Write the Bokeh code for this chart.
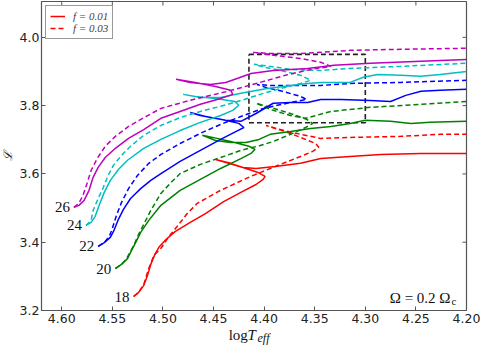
import numpy as np
from bokeh.plotting import figure
from bokeh.layouts import column, row
from bokeh.models import (Range1d, FixedTicker, NumeralTickFormatter, Label, Legend, LegendItem)
from bokeh.core.properties import value
from bokeh.embed import file_html
from bokeh.resources import INLINE

# ---------------- data ----------------
masses = ["18", "20", "22", "24", "26"]
colors = ["#ff0000", "#008000", "#0000ff", "#00bfbf", "#bf00bf"]

x_ticks = [4.60, 4.55, 4.50, 4.45, 4.40, 4.35, 4.30, 4.25, 4.20]
y_ticks = [3.2, 3.4, 3.6, 3.8, 4.0]

# 18 Msun, f = 0.01 (solid) / f = 0.03 (dashed)
logT_18_f01 = [4.529, 4.524, 4.519, 4.515, 4.512, 4.508, 4.504, 4.497, 4.488, 4.473, 4.458, 4.440,
               4.423, 4.408, 4.401, 4.399, 4.406, 4.418, 4.433, 4.448, 4.435, 4.421, 4.408, 4.389,
               4.364, 4.344, 4.315, 4.285, 4.245, 4.200]
lum_18_f01 = [3.241, 3.253, 3.273, 3.305, 3.335, 3.364, 3.385, 3.408, 3.431, 3.458, 3.484, 3.519,
              3.546, 3.569, 3.584, 3.593, 3.604, 3.616, 3.631, 3.642, 3.631, 3.619, 3.616, 3.622,
              3.631, 3.645, 3.651, 3.657, 3.660, 3.660]
logT_18_f03 = [4.529, 4.524, 4.519, 4.514, 4.509, 4.502, 4.494, 4.486, 4.476, 4.466, 4.443, 4.413,
               4.384, 4.364, 4.352, 4.346, 4.349, 4.364, 4.379, 4.392, 4.398, 4.384, 4.364, 4.344,
               4.315, 4.265, 4.226, 4.200]
lum_18_f03 = [3.241, 3.253, 3.276, 3.323, 3.361, 3.382, 3.417, 3.446, 3.484, 3.514, 3.552, 3.593,
              3.628, 3.651, 3.666, 3.678, 3.689, 3.707, 3.724, 3.736, 3.742, 3.730, 3.716, 3.704,
              3.707, 3.710, 3.716, 3.716]

# 20 Msun
logT_20_f01 = [4.547, 4.541, 4.535, 4.531, 4.527, 4.522, 4.514, 4.502, 4.483, 4.463, 4.443, 4.423,
               4.413, 4.409, 4.415, 4.433, 4.451, 4.461, 4.448, 4.433, 4.418, 4.405, 4.394, 4.374,
               4.354, 4.334, 4.315, 4.300, 4.275, 4.255, 4.236, 4.200]
lum_20_f01 = [3.323, 3.335, 3.352, 3.376, 3.399, 3.429, 3.464, 3.508, 3.552, 3.584, 3.616, 3.645,
              3.660, 3.672, 3.681, 3.695, 3.707, 3.713, 3.698, 3.692, 3.692, 3.701, 3.716, 3.724,
              3.733, 3.739, 3.748, 3.757, 3.754, 3.748, 3.751, 3.754]
logT_20_f03 = [4.547, 4.541, 4.536, 4.532, 4.528, 4.524, 4.519, 4.512, 4.502, 4.492, 4.483, 4.463,
               4.443, 4.423, 4.404, 4.391, 4.374, 4.359, 4.352, 4.358, 4.374, 4.394, 4.408, 4.394,
               4.374, 4.359, 4.349, 4.334, 4.295, 4.245, 4.200]
lum_20_f03 = [3.323, 3.335, 3.352, 3.373, 3.396, 3.423, 3.452, 3.493, 3.543, 3.575, 3.601, 3.628,
              3.648, 3.669, 3.683, 3.695, 3.716, 3.736, 3.748, 3.760, 3.777, 3.795, 3.807, 3.789,
              3.771, 3.763, 3.771, 3.783, 3.795, 3.804, 3.812]

# 22 Msun
logT_22_f01 = [4.564, 4.558, 4.552, 4.548, 4.544, 4.539, 4.532, 4.522, 4.512, 4.502, 4.483, 4.463,
               4.443, 4.428, 4.420, 4.425, 4.443, 4.463, 4.473, 4.458, 4.438, 4.423, 4.408, 4.391,
               4.374, 4.357, 4.344, 4.324, 4.295, 4.275, 4.260, 4.245, 4.226, 4.200]
lum_22_f01 = [3.388, 3.399, 3.414, 3.437, 3.467, 3.496, 3.528, 3.557, 3.581, 3.601, 3.637, 3.669,
              3.701, 3.724, 3.736, 3.748, 3.760, 3.771, 3.780, 3.768, 3.757, 3.754, 3.777, 3.807,
              3.809, 3.809, 3.818, 3.818, 3.815, 3.812, 3.830, 3.842, 3.845, 3.848]
logT_22_f03 = [4.564, 4.558, 4.553, 4.550, 4.546, 4.541, 4.534, 4.525, 4.514, 4.502, 4.483, 4.463,
               4.443, 4.423, 4.404, 4.387, 4.369, 4.358, 4.364, 4.382, 4.398, 4.407, 4.394, 4.374,
               4.344, 4.315, 4.265, 4.200]
lum_22_f03 = [3.388, 3.399, 3.417, 3.440, 3.478, 3.516, 3.557, 3.596, 3.631, 3.657, 3.689, 3.719,
              3.745, 3.768, 3.789, 3.801, 3.812, 3.818, 3.827, 3.842, 3.853, 3.862, 3.859, 3.859,
              3.859, 3.865, 3.868, 3.874]

# 24 Msun
logT_24_f01 = [4.576, 4.571, 4.567, 4.563, 4.558, 4.552, 4.544, 4.535, 4.519, 4.502, 4.483, 4.463,
               4.443, 4.431, 4.425, 4.429, 4.448, 4.468, 4.480, 4.463, 4.443, 4.423, 4.397, 4.357,
               4.344, 4.315, 4.302, 4.288, 4.265, 4.245, 4.226, 4.200]
lum_24_f01 = [3.449, 3.458, 3.475, 3.508, 3.546, 3.581, 3.613, 3.640, 3.675, 3.701, 3.727, 3.751,
              3.771, 3.786, 3.801, 3.812, 3.821, 3.827, 3.833, 3.824, 3.824, 3.836, 3.850, 3.865,
              3.868, 3.868, 3.883, 3.891, 3.889, 3.886, 3.891, 3.900]
logT_24_f03 = [4.576, 4.571, 4.569, 4.564, 4.559, 4.554, 4.549, 4.541, 4.532, 4.519, 4.502, 4.483,
               4.463, 4.443, 4.423, 4.404, 4.384, 4.364, 4.354, 4.364, 4.384, 4.399, 4.410, 4.394,
               4.374, 4.344, 4.315, 4.265, 4.200]
lum_24_f03 = [3.449, 3.464, 3.493, 3.528, 3.560, 3.596, 3.625, 3.654, 3.681, 3.713, 3.742, 3.765,
              3.783, 3.798, 3.815, 3.833, 3.850, 3.865, 3.874, 3.889, 3.903, 3.912, 3.921, 3.915,
              3.906, 3.903, 3.909, 3.915, 3.924]

# 26 Msun
logT_26_f01 = [4.588, 4.583, 4.578, 4.573, 4.569, 4.564, 4.557, 4.547, 4.534, 4.519, 4.502, 4.483,
               4.463, 4.443, 4.431, 4.433, 4.448, 4.468, 4.487, 4.473, 4.453, 4.438, 4.426, 4.413,
               4.391, 4.357, 4.331, 4.295, 4.245, 4.200]
lum_26_f01 = [3.502, 3.508, 3.522, 3.552, 3.590, 3.619, 3.648, 3.675, 3.704, 3.730, 3.763, 3.783,
              3.804, 3.821, 3.833, 3.845, 3.856, 3.868, 3.877, 3.868, 3.862, 3.868, 3.880, 3.894,
              3.903, 3.909, 3.918, 3.924, 3.930, 3.935]
logT_26_f03 = [4.588, 4.583, 4.579, 4.575, 4.571, 4.565, 4.557, 4.547, 4.534, 4.515, 4.502, 4.470,
               4.436, 4.404, 4.379, 4.354, 4.334, 4.344, 4.364, 4.389, 4.411, 4.394, 4.364, 4.344,
               4.315, 4.265, 4.200]
lum_26_f03 = [3.502, 3.514, 3.537, 3.572, 3.610, 3.645, 3.681, 3.710, 3.739, 3.771, 3.792, 3.818,
              3.842, 3.868, 3.889, 3.906, 3.915, 3.927, 3.938, 3.947, 3.956, 3.953, 3.953, 3.956,
              3.962, 3.965, 3.968]

# dashed box
box_x = [4.415, 4.30, 4.30, 4.415, 4.415]
box_y = [3.95, 3.95, 3.75, 3.75, 3.95]

solid_T = [logT_18_f01, logT_20_f01, logT_22_f01, logT_24_f01, logT_26_f01]
solid_L = [lum_18_f01, lum_20_f01, lum_22_f01, lum_24_f01, lum_26_f01]
dash_T = [logT_18_f03, logT_20_f03, logT_22_f03, logT_24_f03, logT_26_f03]
dash_L = [lum_18_f03, lum_20_f03, lum_22_f03, lum_24_f03, lum_26_f03]

X_LO, X_HI = 4.62, 4.20
Y_LO, Y_HI = 3.2, 4.105

STRIP_W = 15
MAIN_W = 480 - STRIP_W
LEFT_B = 41 - STRIP_W

# ---------------- main figure ----------------
SPINE = "#555555"
p = figure(width=MAIN_W, height=328, x_range=Range1d(X_LO, X_HI), y_range=Range1d(Y_LO, Y_HI),
           output_backend="svg", toolbar_location=None,
           min_border_left=LEFT_B, min_border_right=14, min_border_top=1,
           min_border_bottom=18)
p.xgrid.visible = False
p.ygrid.visible = False
p.outline_line_color = SPINE
p.outline_line_width = 1.2
p.background_fill_color = "white"
p.border_fill_color = "white"

for ax, tk in ((p.xaxis[0], x_ticks), (p.yaxis[0], y_ticks)):
    ax.ticker = FixedTicker(ticks=tk)
    ax.axis_line_color = None
    ax.major_tick_in = 4
    ax.major_tick_out = 0
    ax.major_tick_line_color = SPINE
    ax.minor_tick_line_color = None
    ax.major_label_text_font = "DejaVu Sans"
    ax.major_label_text_font_size = "12.5px"
    ax.major_label_text_color = "#222222"
p.xaxis[0].formatter = NumeralTickFormatter(format="0.00")
p.yaxis[0].formatter = NumeralTickFormatter(format="0.0")
p.xaxis[0].major_label_standoff = 3
p.yaxis[0].major_label_standoff = 2

# inward ticks on the top and right spines
p.ray(x=x_ticks, y=[Y_HI] * len(x_ticks), length=4, length_units="screen",
      angle=-np.pi / 2, line_color=SPINE, line_width=1)
p.ray(x=[X_HI] * len(y_ticks), y=y_ticks, length=4, length_units="screen",
      angle=np.pi, line_color=SPINE, line_width=1)

# box
p.line(box_x, box_y, line_color="#222222", line_width=1.6, line_dash="5 3")

solid_r = []
dash_r = []
for T, L, T2, L2, c in zip(solid_T, solid_L, dash_T, dash_L, colors):
    solid_r.append(p.line(T, L, line_color=c, line_width=1.5))
    dash_r.append(p.line(T2, L2, line_color=c, line_width=1.5, line_dash="5 3"))

# mass labels at ZAMS
start_x = [t[0] for t in solid_T]
start_y = [l[0] for l in solid_L]
p.text(x=start_x, y=start_y, text=masses, x_offset=-4, text_align="right",
       text_baseline="middle", text_font=value("Liberation Serif"), text_font_size="15px",
       text_color="#111111")

# legend
legend = Legend(items=[LegendItem(label="f = 0.01", renderers=[solid_r[0]]),
                       LegendItem(label="f = 0.03", renderers=[dash_r[0]])],
                location="top_left", margin=4, padding=4, spacing=0,
                glyph_width=15, glyph_height=12, label_height=12, label_standoff=8,
                label_text_font="Liberation Serif", label_text_font_size="11px",
                label_text_font_style="italic",
                border_line_color="#333333", border_line_width=1,
                background_fill_alpha=1.0)
p.add_layout(legend)

# annotation
p.add_layout(Label(x=4.2158, y=3.2352, text="Ω = 0.2 Ω", text_align="right",
                   text_baseline="alphabetic", text_font="Liberation Serif",
                   text_font_size="15px", text_color="#111111"))
p.add_layout(Label(x=4.2148, y=3.2264, text="c", text_align="left",
                   text_baseline="alphabetic", text_font="Liberation Serif",
                   text_font_size="11px", text_color="#111111"))

# ---------------- x-axis title strip (shares the x scale) ----------------
q = figure(width=MAIN_W, height=17, x_range=p.x_range, y_range=Range1d(0, 1),
           output_backend="svg", toolbar_location=None, x_axis_type=None, y_axis_type=None,
           min_border_left=LEFT_B, min_border_right=14, min_border_top=0,
           min_border_bottom=0)
q.xgrid.visible = False
q.ygrid.visible = False
q.outline_line_color = None
q.background_fill_color = "white"
q.border_fill_color = "white"
q.text(x=[4.435], y=[0.59], text=["log"], text_align="left", text_baseline="alphabetic",
       text_font=value("Liberation Serif"), text_font_size="15px", text_color="#111111")
q.text(x=[4.4164], y=[0.59], text=["T"], text_align="left", text_baseline="alphabetic",
       text_font=value("Liberation Serif"), text_font_style="italic", text_font_size="15px",
       text_color="#111111")
q.text(x=[4.4065], y=[0.42], text=["eff"], text_align="left", text_baseline="alphabetic",
       text_font=value("Liberation Serif"), text_font_style="italic", text_font_size="12px",
       text_color="#111111")

# ---------------- y-axis title strip ----------------
s = figure(width=STRIP_W, height=345, x_range=Range1d(0, 1), y_range=Range1d(0, 1),
           output_backend="svg", toolbar_location=None, x_axis_type=None, y_axis_type=None,
           min_border_left=0, min_border_right=0, min_border_top=0, min_border_bottom=0)
s.xgrid.visible = False
s.ygrid.visible = False
s.outline_line_color = None
s.background_fill_color = "white"
s.border_fill_color = "white"
s.text(x=[0.5], y=[0.548], text=["ℒ"], angle=np.pi / 2, text_align="center",
       text_baseline="middle", text_font=value("DejaVu Serif"), text_font_style="italic",
       text_font_size="12px", text_color="#111111")

layout = row(s, column(p, q, spacing=0), spacing=0)
open("out.html", "w").write(file_html(layout, INLINE))
